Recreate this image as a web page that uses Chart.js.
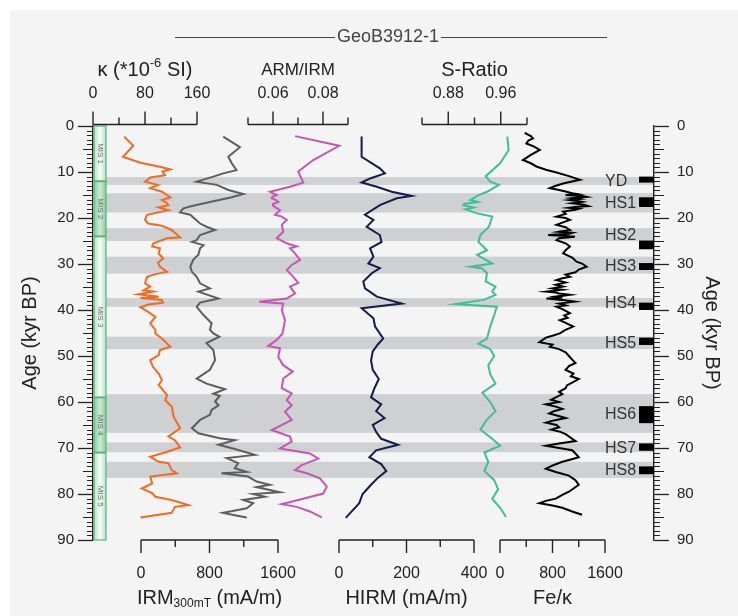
<!DOCTYPE html>
<html lang="en">
<head>
<meta charset="UTF-8">
<title>GeoB3912-1 downcore record</title>
<script src="https://cdn.jsdelivr.net/npm/chart.js@4"></script>
<style>
  html, body { margin: 0; padding: 0; background: #fff; }
  #core { display: block; }
</style>
</head>
<body>
<canvas id="core" width="738" height="616"></canvas>
<script>
// ---- records (age in kyr BP) ----
const kappaAge = [2.3, 4.3, 6.7, 8.0, 8.8, 9.4, 9.9, 10.7, 11.2, 12.1, 12.8, 13.5, 14.3, 15.0, 15.5, 16.1, 16.6, 17.2, 17.7, 18.3, 19.3, 20.4, 21.2, 21.7, 22.6, 24.2, 24.4, 25.5, 26.2, 26.6, 27.7, 28.8, 29.7, 30.6, 31.7, 32.2, 32.8, 34.2, 34.9, 35.7, 36.0, 36.6, 37.1, 37.4, 37.8, 38.4, 38.8, 39.4, 40.4, 41.5, 42.9, 44.3, 45.1, 46.2, 48.0, 48.7, 49.8, 50.9, 52.3, 53.8, 55.2, 56.3, 58.5, 59.6, 61.0, 63.2, 65.7, 67.5, 68.3, 69.9, 70.8, 71.9, 73.0, 73.3, 74.8, 75.5, 76.2, 77.7, 78.8, 79.8, 80.6, 81.3, 82.4, 82.8, 84.1, 85.1];
const kappaVal = [48, 62, 46, 73, 101, 119, 107, 111, 88, 80, 100, 88, 106, 114, 119, 106, 112, 116, 101, 116, 83, 80, 85, 106, 121, 134, 114, 93, 91, 103, 101, 108, 100, 103, 114, 96, 83, 80, 88, 78, 93, 70, 101, 73, 106, 108, 85, 73, 85, 96, 88, 96, 96, 106, 119, 103, 101, 88, 92, 101, 106, 101, 114, 111, 121, 124, 134, 116, 126, 134, 114, 88, 101, 116, 121, 129, 88, 91, 75, 91, 96, 121, 147, 126, 121, 73];

const irmAge = [2.3, 4.6, 6.7, 8.1, 9.6, 10.3, 11.0, 12.1, 12.8, 13.9, 14.8, 15.5, 16.5, 17.4, 17.9, 18.8, 19.3, 21.2, 21.9, 22.6, 23.7, 24.8, 25.2, 25.9, 26.6, 28.0, 29.1, 30.6, 31.7, 32.8, 34.2, 35.3, 36.0, 37.5, 38.4, 39.3, 41.1, 42.9, 44.3, 45.1, 45.8, 47.2, 48.7, 50.9, 53.0, 54.9, 56.0, 56.7, 57.2, 58.2, 58.7, 59.9, 60.7, 61.7, 62.8, 63.9, 65.7, 66.8, 67.9, 68.3, 69.3, 70.1, 71.5, 72.2, 73.3, 74.4, 75.2, 75.5, 76.2, 77.3, 78.0, 78.5, 79.6, 80.0, 80.6, 81.3, 82.0, 83.1, 84.1, 84.6, 85.1];
const irmVal = [960, 1155, 1020, 1060, 1115, 960, 845, 650, 885, 1020, 1195, 1060, 805, 595, 495, 455, 575, 690, 765, 865, 690, 650, 595, 730, 690, 670, 610, 575, 595, 650, 690, 805, 670, 905, 690, 650, 730, 825, 805, 845, 915, 765, 845, 865, 805, 650, 765, 885, 980, 845, 920, 865, 905, 825, 805, 690, 595, 670, 920, 1095, 905, 1075, 1330, 1000, 1135, 1095, 1235, 940, 1250, 1350, 1505, 1350, 1620, 1310, 1445, 1195, 1310, 1235, 960, 1095, 1235];

const armAge = [2.2, 4.3, 7.4, 9.9, 12.3, 13.2, 14.3, 15.0, 15.4, 15.7, 16.1, 16.5, 17.0, 17.4, 18.3, 19.3, 19.7, 20.4, 21.5, 23.0, 24.4, 25.5, 26.2, 26.6, 27.7, 29.1, 30.2, 31.3, 32.8, 34.1, 34.9, 36.4, 37.5, 38.2, 38.6, 40.0, 42.2, 45.1, 46.5, 47.8, 48.3, 50.2, 52.0, 53.4, 54.9, 57.0, 58.1, 59.6, 60.7, 62.1, 63.9, 66.1, 67.5, 68.6, 70.1, 71.2, 72.3, 73.7, 74.8, 75.5, 76.6, 78.4, 79.9, 81.3, 82.2, 82.8, 83.8, 85.1];
const armVal = [0.0688, 0.0865, 0.0761, 0.0701, 0.0721, 0.0668, 0.0588, 0.0615, 0.0598, 0.0595, 0.0612, 0.0621, 0.0600, 0.0601, 0.0628, 0.0608, 0.0635, 0.0655, 0.0635, 0.0641, 0.0615, 0.0655, 0.0695, 0.0668, 0.0688, 0.0708, 0.0675, 0.0655, 0.0681, 0.0701, 0.0668, 0.0688, 0.0655, 0.0545, 0.0641, 0.0635, 0.0648, 0.0638, 0.0615, 0.0581, 0.0628, 0.0621, 0.0641, 0.0679, 0.0641, 0.0635, 0.0675, 0.0655, 0.0675, 0.0648, 0.0675, 0.0595, 0.0668, 0.0675, 0.0628, 0.0748, 0.0781, 0.0715, 0.0688, 0.0735, 0.0788, 0.0815, 0.0801, 0.0701, 0.0635, 0.0695, 0.0748, 0.0795];

const hirmAge = [2.3, 6.7, 9.2, 10.3, 11.4, 12.3, 13.2, 14.3, 15.2, 15.7, 17.2, 19.3, 20.4, 21.9, 23.7, 25.2, 26.6, 28.4, 29.9, 30.9, 32.0, 33.8, 35.3, 37.1, 38.6, 39.6, 41.8, 43.6, 46.2, 47.5, 49.0, 51.0, 53.0, 55.0, 57.0, 59.0, 60.5, 62.0, 63.5, 65.0, 66.5, 68.0, 69.3, 70.5, 72.0, 73.5, 75.0, 76.5, 78.0, 80.0, 82.0, 84.0, 85.2];
const hirmVal = [67, 67, 121, 136, 92, 67, 112, 156, 215, 171, 121, 77, 102, 82, 121, 126, 92, 102, 87, 121, 97, 72, 77, 112, 186, 67, 102, 107, 131, 115, 100, 95, 100, 118, 105, 95, 125, 110, 135, 100, 110, 125, 175, 110, 90, 125, 140, 115, 95, 70, 60, 35, 20];

const sAge = [2.3, 5.2, 8.1, 10.9, 12.1, 12.8, 14.3, 15.2, 16.1, 16.5, 16.9, 17.2, 17.7, 18.1, 19.0, 19.7, 21.9, 23.7, 25.2, 27.0, 28.0, 29.9, 30.6, 30.9, 32.0, 33.8, 34.9, 36.0, 36.7, 37.8, 38.7, 39.3, 41.5, 43.6, 46.2, 47.3, 48.5, 50.0, 52.0, 54.0, 56.0, 58.0, 60.0, 62.0, 64.0, 66.0, 68.0, 69.5, 71.0, 73.0, 75.0, 77.0, 79.0, 81.0, 83.0, 85.0];
const sVal = [0.970, 0.972, 0.959, 0.937, 0.944, 0.957, 0.939, 0.924, 0.914, 0.925, 0.905, 0.903, 0.919, 0.906, 0.924, 0.947, 0.942, 0.929, 0.926, 0.939, 0.924, 0.947, 0.914, 0.931, 0.939, 0.937, 0.952, 0.947, 0.952, 0.934, 0.891, 0.954, 0.949, 0.944, 0.939, 0.926, 0.944, 0.950, 0.941, 0.944, 0.952, 0.932, 0.944, 0.952, 0.938, 0.929, 0.947, 0.959, 0.935, 0.941, 0.935, 0.950, 0.956, 0.947, 0.959, 0.968];

const feAge = [1.5, 2.2, 2.7, 3.2, 3.8, 4.5, 5.2, 6.3, 7.4, 8.1, 8.8, 9.5, 10.1, 10.9, 11.7, 12.1, 12.5, 13.0, 13.5, 13.9, 14.3, 14.6, 14.8, 15.0, 15.2, 15.4, 15.7, 15.9, 16.1, 16.3, 16.5, 16.8, 17.1, 17.4, 17.6, 17.8, 18.0, 18.2, 18.6, 19.1, 19.7, 20.0, 20.4, 21.0, 21.5, 22.0, 22.6, 23.0, 23.2, 23.4, 23.7, 23.9, 24.1, 24.4, 24.8, 25.5, 26.2, 27.0, 27.7, 28.6, 29.5, 29.9, 30.6, 31.2, 31.8, 32.3, 32.8, 33.1, 33.5, 34.0, 34.5, 34.9, 35.3, 35.6, 36.0, 36.2, 36.4, 36.7, 37.1, 37.3, 37.5, 37.8, 38.0, 38.2, 38.6, 39.0, 39.3, 39.8, 40.2, 40.7, 41.2, 41.7, 42.2, 42.8, 43.6, 44.3, 45.1, 45.6, 46.0, 46.5, 47.0, 47.5, 48.0, 48.5, 49.2, 50.0, 50.8, 51.5, 52.2, 53.0, 53.8, 54.4, 55.0, 55.8, 56.4, 57.0, 57.8, 58.3, 59.0, 59.5, 60.0, 60.5, 61.0, 61.5, 62.0, 62.5, 63.0, 63.5, 64.0, 64.5, 65.0, 65.5, 66.0, 66.5, 67.0, 67.8, 68.5, 69.0, 69.5, 70.0, 70.5, 71.2, 72.0, 72.5, 73.0, 73.8, 74.5, 75.2, 76.0, 77.0, 78.0, 78.8, 79.5, 80.2, 81.0, 81.5, 82.0, 82.5, 83.0, 83.8, 84.5];
const feVal = [376, 470, 503, 430, 402, 520, 606, 470, 350, 470, 555, 700, 861, 1050, 1218, 1080, 962, 850, 759, 900, 1014, 1100, 1180, 1000, 1250, 1320, 1100, 1200, 1065, 1180, 1250, 1100, 1280, 1345, 1150, 1050, 1200, 1150, 962, 1000, 861, 1000, 1065, 950, 861, 1000, 1065, 900, 1100, 1050, 733, 1000, 1141, 900, 861, 1000, 1065, 1000, 962, 1100, 1167, 1250, 1320, 1200, 1150, 1000, 1065, 950, 861, 1000, 850, 962, 800, 950, 708, 850, 900, 1065, 850, 950, 708, 950, 1050, 1141, 900, 1000, 861, 950, 1000, 1065, 980, 1030, 912, 1000, 1115, 1000, 912, 800, 700, 650, 600, 800, 760, 900, 1000, 1050, 1100, 1150, 1050, 1000, 1120, 1080, 1200, 1100, 1020, 1000, 900, 950, 850, 780, 900, 700, 850, 950, 820, 750, 880, 1000, 820, 700, 860, 900, 780, 920, 1000, 1080, 1150, 900, 700, 900, 1100, 1150, 1200, 1080, 950, 800, 700, 850, 1050, 1150, 1200, 1120, 1050, 950, 850, 700, 600, 800, 950, 1100, 1250];

// stadials (grey bands), Heinrich ages (black bars), marine isotope stages
const stadialNames = ['YD', 'HS1', 'HS2', 'HS3', 'HS4', 'HS5', 'HS6', 'HS7', 'HS8'];
const stadialTop = [11.1, 14.6, 22.2, 28.4, 37.4, 45.8, 58.3, 68.8, 73.0];
const stadialBase = [12.8, 18.8, 25.0, 32.1, 39.3, 48.5, 66.7, 70.9, 76.5];
const heinrichTop = [11.0, 15.5, 24.9, 29.8, 38.4, 46.0, 60.9, 69.0, 74.0];
const heinrichBase = [12.3, 17.6, 26.8, 31.3, 40.0, 47.6, 64.6, 70.6, 75.7];
const misNames = ['MIS 1', 'MIS 2', 'MIS 3', 'MIS 4', 'MIS 5'];
const misBounds = [0, 12, 24, 59, 71, 90];

// axis ticks of each proxy track
const kappaTicks = [0, 40, 80, 120, 160], kappaLabels = [0, 80, 160];
const armTicks = [0.05, 0.06, 0.07, 0.08, 0.09], armLabels = [0.06, 0.08];
const sTicks = [0.84, 0.88, 0.92, 0.96, 1.00], sLabels = [0.88, 0.96];
const irmTicks = [0, 400, 800, 1200, 1600], irmLabels = [0, 800, 1600];
const hirmTicks = [0, 100, 200, 300, 400], hirmLabels = [0, 200, 400];
const feTicks = [0, 400, 800, 1200, 1600], feLabels = [0, 800, 1600];

// ---- layout ----
const FONT = '"Liberation Sans", Arial, sans-serif';
const INK = '#222';
const PLOT_L = 93, PLOT_R = 654;   // plot area edges (left / right age axes)

// horizontal pixel span each track axis occupies
const tracks = {
  xKappa: { span: [93, 197], ticks: kappaTicks, labels: kappaLabels, digits: 0, edge: 'top',
            title: [['κ (*10', 20, 0], ['-6', 13, -7], [' SI)', 20, 0]] },
  xArm:   { span: [248, 348], ticks: armTicks, labels: armLabels, digits: 2, edge: 'top',
            title: [['ARM/IRM', 17, 0]] },
  xS:     { span: [422, 527], ticks: sTicks, labels: sLabels, digits: 2, edge: 'top',
            title: [['S-Ratio', 20, 0]] },
  xIrm:   { span: [141, 278], ticks: irmTicks, labels: irmLabels, digits: 0, edge: 'bottom',
            title: [['IRM', 20, 0], ['300mT', 12, 6], [' (mA/m)', 20, 0]] },
  xHirm:  { span: [339, 474], ticks: hirmTicks, labels: hirmLabels, digits: 0, edge: 'bottom',
            title: [['HIRM (mA/m)', 20, 0]] },
  xFe:    { span: [500, 605], ticks: feTicks, labels: feLabels, digits: 0, edge: 'bottom',
            title: [['Fe/κ', 20, 0]] }
};

// stretch a track's value range so it lands on its span inside the full plot width
function trackScale(id) {
  const t = tracks[id];
  const lo = t.ticks[0], hi = t.ticks[t.ticks.length - 1];
  const k = (hi - lo) / (t.span[1] - t.span[0]);
  return {
    type: 'linear', display: false,
    min: lo - (t.span[0] - PLOT_L) * k,
    max: hi + (PLOT_R - t.span[1]) * k
  };
}

function series(ages, vals) {
  return ages.map((a, i) => ({ x: vals[i], y: a }));
}

// draws a run of text pieces [text, size, dy] centred on x
function drawParts(ctx, parts, cx, cy) {
  let w = 0;
  parts.forEach(([t, s]) => { ctx.font = s + 'px ' + FONT; w += ctx.measureText(t).width; });
  let x = cx - w / 2;
  ctx.textAlign = 'left';
  ctx.textBaseline = 'middle';
  parts.forEach(([t, s, dy]) => {
    ctx.font = s + 'px ' + FONT;
    ctx.fillText(t, x, cy + dy);
    x += ctx.measureText(t).width;
  });
}

function drawTrackAxis(ctx, scale, t, yLine) {
  const dir = t.edge === 'top' ? -1 : 1;
  const isMajor = v => t.labels.some(l => Math.abs(l - v) < 1e-9);
  const x0 = scale.getPixelForValue(t.ticks[0]);
  const x1 = scale.getPixelForValue(t.ticks[t.ticks.length - 1]);
  ctx.strokeStyle = INK;
  ctx.lineWidth = 1.4;
  ctx.beginPath();
  ctx.moveTo(x0, yLine);
  ctx.lineTo(x1, yLine);
  t.ticks.forEach(v => {
    const x = scale.getPixelForValue(v);
    ctx.moveTo(x, yLine);
    ctx.lineTo(x, yLine + dir * (isMajor(v) ? 13 : 7));
  });
  ctx.stroke();

  ctx.fillStyle = INK;
  ctx.font = '16px ' + FONT;
  ctx.textAlign = 'center';
  ctx.textBaseline = 'middle';
  const labelY = t.edge === 'top' ? 94 : 574;
  t.labels.forEach(v => ctx.fillText(v.toFixed(t.digits), scale.getPixelForValue(v), labelY));

  const titleY = t.edge === 'top' ? 70 : 598;
  drawParts(ctx, t.title, (x0 + x1) / 2, titleY);
}

const coreDecor = {
  id: 'coreDecor',
  beforeDraw(chart) {
    const { ctx, width, height } = chart;
    ctx.save();
    ctx.fillStyle = '#ffffff';
    ctx.fillRect(0, 0, width, height);
    ctx.fillStyle = '#f4f4f5';
    ctx.fillRect(10, 10, width - 10, height - 10);
    ctx.restore();
  },
  beforeDatasetsDraw(chart) {
    const { ctx, chartArea: a, scales: { y } } = chart;
    ctx.save();
    // stadial bands
    ctx.fillStyle = '#cfd0d2';
    stadialTop.forEach((s, i) => {
      const t = y.getPixelForValue(s), b = y.getPixelForValue(stadialBase[i]);
      ctx.fillRect(a.left, t, a.right - a.left - 1, b - t);
    });
    // MIS column
    const cl = a.left + 1, cw = 12;
    misNames.forEach((name, i) => {
      const t = y.getPixelForValue(misBounds[i]), b = y.getPixelForValue(misBounds[i + 1]);
      const g = ctx.createLinearGradient(cl, 0, cl + cw, 0);
      const edge = i % 2 ? '#86cc9d' : '#b6e2c3';
      const mid = i % 2 ? '#cdebd6' : '#f7fcf8';
      g.addColorStop(0, edge); g.addColorStop(0.5, mid); g.addColorStop(1, edge);
      ctx.fillStyle = g;
      ctx.fillRect(cl, t, cw, b - t);
      ctx.save();
      ctx.translate(cl + cw / 2, (t + b) / 2);
      ctx.rotate(Math.PI / 2);
      ctx.fillStyle = '#6a6a6a';
      ctx.font = '8px ' + FONT;
      ctx.textAlign = 'center';
      ctx.textBaseline = 'middle';
      ctx.fillText(name, 0, 0);
      ctx.restore();
    });
    ctx.strokeStyle = '#5bb47a';
    ctx.lineWidth = 1.2;
    ctx.strokeRect(cl, y.getPixelForValue(0), cw, y.getPixelForValue(90) - y.getPixelForValue(0));
    ctx.lineWidth = 2;
    misBounds.slice(1, -1).forEach(m => {
      const p = y.getPixelForValue(m);
      ctx.beginPath(); ctx.moveTo(cl, p); ctx.lineTo(cl + cw, p); ctx.stroke();
    });
    ctx.restore();
  },
  afterDatasetsDraw(chart) {
    const { ctx, chartArea: a, scales } = chart;
    const y = scales.y;
    ctx.save();
    // Heinrich event ages
    ctx.fillStyle = '#000';
    heinrichTop.forEach((s, i) => {
      const t = y.getPixelForValue(s), b = y.getPixelForValue(heinrichBase[i]);
      ctx.fillRect(a.right - 15, t, 15, b - t);
    });
    ctx.fillStyle = '#333';
    ctx.font = '16px ' + FONT;
    ctx.textAlign = 'left';
    ctx.textBaseline = 'middle';
    stadialNames.forEach((n, i) => {
      ctx.fillText(n, 605, y.getPixelForValue((stadialTop[i] + stadialBase[i]) / 2) + 1);
    });

    // minor age ticks on both sides
    ctx.strokeStyle = INK;
    ctx.lineWidth = 1.2;
    ctx.beginPath();
    for (let k = 1; k < 90; k++) {
      if (k % 10 === 0) continue;
      const p = Math.round(y.getPixelForValue(k)) + 0.5;
      const len = k % 5 === 0 ? 10 : 6;
      ctx.moveTo(a.left, p); ctx.lineTo(a.left - len, p);
      ctx.moveTo(a.right, p); ctx.lineTo(a.right + len, p);
    }
    ctx.stroke();

    // track axes
    Object.keys(tracks).forEach(id => {
      const t = tracks[id];
      drawTrackAxis(ctx, scales[id], t, t.edge === 'top' ? a.top - 1.5 : a.bottom);
    });

    // core name header
    ctx.fillStyle = '#444';
    ctx.font = '18px ' + FONT;
    ctx.textAlign = 'center';
    ctx.textBaseline = 'middle';
    const name = 'GeoB3912-1', cx = 388, hy = 37;
    const w = ctx.measureText(name).width;
    ctx.fillText(name, cx, hy);
    ctx.strokeStyle = '#444';
    ctx.lineWidth = 1;
    ctx.beginPath();
    ctx.moveTo(175, hy + 0.5); ctx.lineTo(cx - w / 2 - 2, hy + 0.5);
    ctx.moveTo(cx + w / 2 + 2, hy + 0.5); ctx.lineTo(607, hy + 0.5);
    ctx.stroke();
    ctx.restore();
  }
};

Chart.defaults.font.family = FONT;

const ageAxis = (position, width, titlePad, labelPad) => ({
  type: 'linear', position, reverse: true, min: 0, max: 90,
  afterFit: s => { s.width = width; },
  ticks: { stepSize: 10, padding: labelPad, color: INK, font: { size: 15 } },
  grid: { drawOnChartArea: false, tickLength: 15, tickColor: INK, tickWidth: 1.3 },
  border: { color: INK, width: 1.4 },
  title: { display: true, text: 'Age (kyr BP)', color: INK, font: { size: 20 },
           padding: { top: titlePad, bottom: 0 } }
});

const line = (data, axis, color) => ({
  data, xAxisID: axis, yAxisID: 'y', borderColor: color, borderWidth: 2,
  pointRadius: 0, tension: 0, fill: false
});

new Chart(document.getElementById('core'), {
  type: 'line',
  data: {
    datasets: [
      line(series(kappaAge, kappaVal), 'xKappa', '#f26b22'),
      line(series(irmAge, irmVal), 'xIrm', '#5e5e5e'),
      line(series(armAge, armVal), 'xArm', '#c257b4'),
      line(series(hirmAge, hirmVal), 'xHirm', '#151b4c'),
      line(series(sAge, sVal), 'xS', '#3fbf95'),
      line(series(feAge, feVal), 'xFe', '#000000')
    ]
  },
  options: {
    responsive: false,
    animation: false,
    devicePixelRatio: 1,
    indexAxis: 'y',
    layout: { padding: { top: 126, bottom: 76, left: 0, right: 0 } },
    plugins: { legend: { display: false }, tooltip: { enabled: false } },
    scales: {
      y: ageAxis('left', PLOT_L, 18, 4),
      y2: ageAxis('right', 738 - PLOT_R, 14, 8),
      xKappa: trackScale('xKappa'),
      xArm: trackScale('xArm'),
      xS: trackScale('xS'),
      xIrm: trackScale('xIrm'),
      xHirm: trackScale('xHirm'),
      xFe: trackScale('xFe')
    }
  },
  plugins: [coreDecor]
});
</script>
</body>
</html>
